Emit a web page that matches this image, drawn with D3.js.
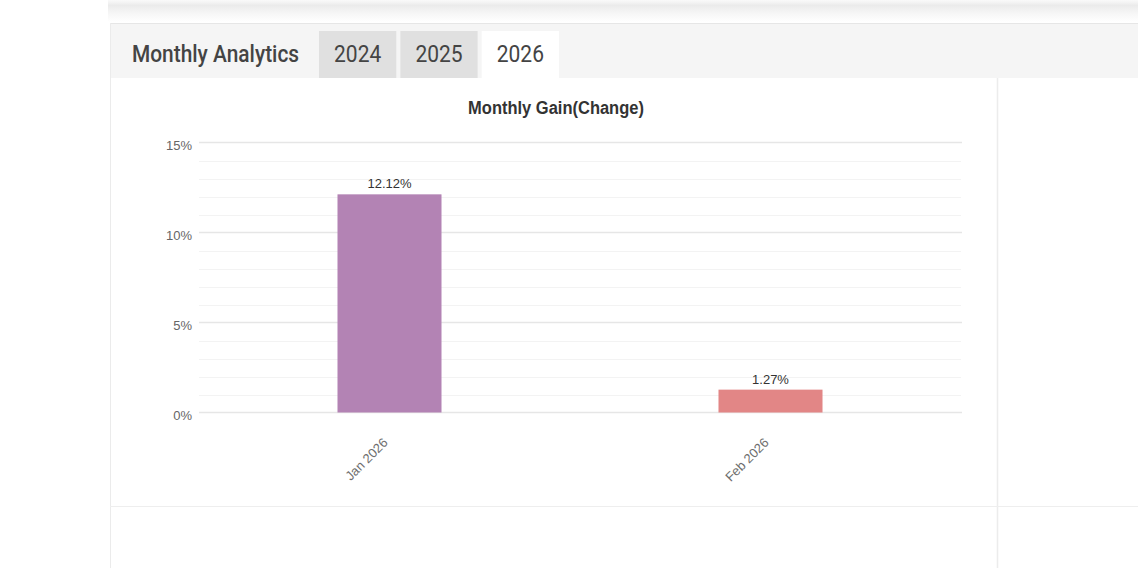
<!DOCTYPE html>
<html>
<head>
<meta charset="utf-8">
<script src="https://cdn.jsdelivr.net/npm/d3@7"></script>
<style>
  html, body { margin: 0; padding: 0; background: #ffffff; }
  svg { display: block; }
</style>
</head>
<body>
<svg id="page" width="1138" height="568"></svg>
<script>
// ---- data ----
const headerTitle = "Monthly Analytics";
const tabs = ["2024", "2025", "2026"];
const activeTab = "2026";
const chartTitle = "Monthly Gain(Change)";
const categories = ["Jan 2026", "Feb 2026"];
const gains = [12.12, 1.27];
const barColors = ["#b383b4", "#e28686"];
const yTickValues = [0, 5, 10, 15];
const yMax = 15;

// ---- page frame ----
const svg = d3.select("#page");
const defs = svg.append("defs");
const grad = defs.append("linearGradient").attr("id", "shadow").attr("x1", 0).attr("y1", 0).attr("x2", 0).attr("y2", 1);
grad.append("stop").attr("offset", "0%").attr("stop-color", "#fafafa");
grad.append("stop").attr("offset", "25%").attr("stop-color", "#ebebeb");
grad.append("stop").attr("offset", "60%").attr("stop-color", "#f6f6f6");
grad.append("stop").attr("offset", "100%").attr("stop-color", "#ffffff");
svg.append("rect").attr("x", 108).attr("y", 0).attr("width", 1030).attr("height", 22).attr("fill", "url(#shadow)");

// header bar
svg.append("rect").attr("x", 110).attr("y", 23).attr("width", 1028).attr("height", 55).attr("fill", "#f5f5f5");
svg.append("line").attr("x1", 110).attr("x2", 1138).attr("y1", 23.5).attr("y2", 23.5).attr("stroke", "#e6e6e6");

svg.append("text")
  .attr("transform", "translate(132,62) scale(1,1.1)")
  .attr("font-family", "Roboto, 'Noto Sans', sans-serif")
  .attr("font-size", 20.9).attr("font-weight", 500).attr("fill", "#444")
  .text(headerTitle);

const tabX = d3.scaleBand().domain(tabs).range([319, 559]).paddingInner(0.05);
const tabG = svg.append("g").selectAll("g").data(tabs).join("g")
  .attr("transform", d => `translate(${tabX(d)},31)`);
tabG.append("rect").attr("width", tabX.bandwidth()).attr("height", 47)
  .attr("fill", d => d === activeTab ? "#ffffff" : "#e0e0e0");
tabG.append("text")
  .attr("transform", `translate(${tabX.bandwidth() / 2},31) scale(1,1.1)`)
  .attr("text-anchor", "middle")
  .attr("font-family", "Roboto, 'Noto Sans', sans-serif")
  .attr("font-size", 21).attr("fill", "#444")
  .text(d => d);

// panel borders
svg.append("line").attr("x1", 110.5).attr("x2", 110.5).attr("y1", 23).attr("y2", 568).attr("stroke", "#ebebeb");
svg.append("line").attr("x1", 997.5).attr("x2", 997.5).attr("y1", 78).attr("y2", 568).attr("stroke", "#ececec").attr("stroke-width", 1.5);
svg.append("line").attr("x1", 110).attr("x2", 1138).attr("y1", 506.5).attr("y2", 506.5).attr("stroke", "#eeeeee");

// ---- chart ----
const x = d3.scaleBand().domain(categories).range([199, 961]);
const y = d3.scaleLinear().domain([0, yMax]).range([412.5, 142.5]);
const barW = x.bandwidth() * 0.273;

svg.append("text")
  .attr("transform", "translate(556,114) scale(1,1.1)")
  .attr("text-anchor", "middle")
  .attr("font-family", "'Liberation Sans', Arial, sans-serif")
  .attr("font-weight", "bold").attr("font-size", 16.5).attr("fill", "#333")
  .text(chartTitle);

// minor grid
const grid = svg.append("g");
grid.selectAll("line.minor").data(d3.range(0, yMax + 1).filter(v => !yTickValues.includes(v)))
  .join("line").attr("class", "minor")
  .attr("x1", 199).attr("x2", 961)
  .attr("y1", d => Math.round(y(d)) + 0.5).attr("y2", d => Math.round(y(d)) + 0.5)
  .attr("stroke", "#f3f3f3");
grid.selectAll("line.major").data(yTickValues)
  .join("line").attr("class", "major")
  .attr("x1", 199).attr("x2", 962)
  .attr("y1", d => y(d)).attr("y2", d => y(d))
  .attr("stroke", "#e6e6e6").attr("stroke-width", 1.6);

// y axis
const yAxis = svg.append("g").attr("transform", "translate(192,0)")
  .call(d3.axisLeft(y).tickValues(yTickValues).tickSize(0).tickPadding(0).tickFormat(d => d + "%"));
yAxis.select(".domain").remove();
yAxis.selectAll("text")
  .attr("font-family", "'Liberation Sans', Arial, sans-serif")
  .attr("font-size", 13).attr("fill", "#666")
  .attr("dy", null).attr("y", 7);

// bars
const data = categories.map((c, i) => ({ c, v: gains[i], color: barColors[i] }));
svg.append("g").selectAll("rect").data(data).join("rect")
  .attr("x", d => x(d.c) + x.bandwidth() / 2 - barW / 2)
  .attr("width", barW)
  .attr("y", d => y(d.v))
  .attr("height", d => y(0) - y(d.v))
  .attr("fill", d => d.color);

// value labels
svg.append("g").selectAll("text").data(data).join("text")
  .attr("x", d => x(d.c) + x.bandwidth() / 2)
  .attr("y", d => y(d.v) - 6)
  .attr("text-anchor", "middle")
  .attr("font-family", "'Liberation Sans', Arial, sans-serif")
  .attr("font-size", 13).attr("fill", "#333")
  .text(d => d.v.toFixed(2) + "%");

// x axis
const xAxis = svg.append("g").attr("transform", `translate(0,${y(0)})`)
  .call(d3.axisBottom(x).tickSize(0).tickPadding(0));
xAxis.select(".domain").remove();
xAxis.selectAll("text")
  .attr("font-family", "'Liberation Sans', Arial, sans-serif")
  .attr("font-size", 13).attr("fill", "#6e6e6e")
  .attr("dy", null).attr("y", null)
  .attr("text-anchor", "end")
  .attr("transform", "translate(-1,31) rotate(-45)");
</script>
</body>
</html>
